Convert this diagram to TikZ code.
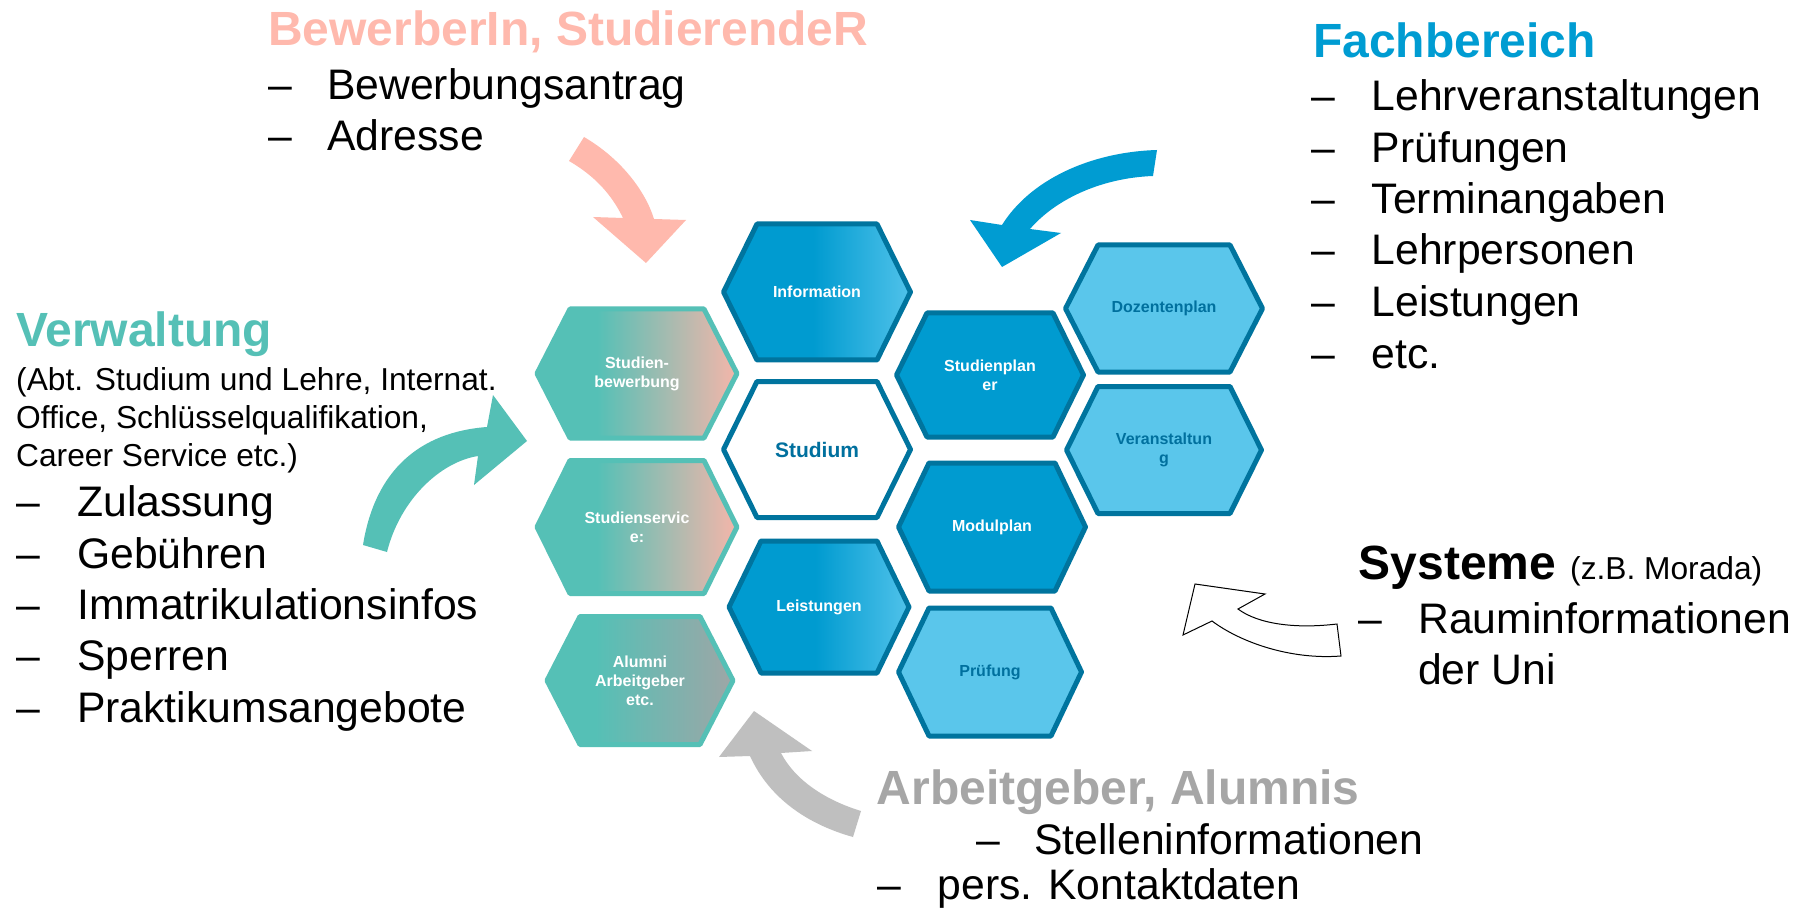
\documentclass[tikz,border=0pt]{standalone}
\usepackage{fontspec}
\setmainfont{Liberation Sans}
\definecolor{hexborder}{RGB}{0,116,158}
\definecolor{hexblue}{RGB}{0,155,208}
\definecolor{hexlight}{RGB}{90,198,235}
\definecolor{hexlight2}{RGB}{80,194,234}
\definecolor{tealc}{RGB}{85,192,182}
\definecolor{salmonc}{RGB}{255,185,173}
\definecolor{salmonend}{RGB}{240,182,170}
\definecolor{grayend}{RGB}{158,166,166}
\definecolor{arrowgray}{RGB}{191,191,191}
\definecolor{headgray}{RGB}{166,166,166}
\definecolor{fbblue}{RGB}{0,156,210}
\definecolor{txtblue}{RGB}{0,112,158}
\pgfdeclarehorizontalshading{infoshade}{100bp}{color(0bp)=(hexblue); color(49bp)=(hexblue); color(75bp)=(hexlight2); color(100bp)=(hexlight2)}
\pgfdeclarehorizontalshading{bewshade}{100bp}{color(0bp)=(tealc); color(40bp)=(tealc); color(74bp)=(salmonend); color(100bp)=(salmonend)}
\pgfdeclarehorizontalshading{alumshade}{100bp}{color(0bp)=(tealc); color(38bp)=(tealc); color(75bp)=(grayend); color(100bp)=(grayend)}
\newcommand{\drawhex}[6]{%
  \path[#1] (#2-#4,#3) -- (#2-#6,#3-#5) -- (#2+#6,#3-#5) -- (#2+#4,#3) -- (#2+#6,#3+#5) -- (#2-#6,#3+#5) -- cycle;}
\tikzset{
  hexbase/.style={line width=5pt, line join=round},
  hexgrad/.style={hexbase, draw=hexborder, shading=infoshade},
  hexsolid/.style={hexbase, draw=hexborder, fill=hexblue},
  hexlightst/.style={hexbase, draw=hexborder, fill=hexlight},
  hexwhite/.style={hexbase, draw=hexborder, fill=white},
  hexbew/.style={hexbase, draw=tealc, shading=bewshade},
  hexalum/.style={hexbase, draw=tealc, shading=alumshade},
  hl/.style={font=\bfseries\fontsize{16}{19}\selectfont, align=center, inner sep=0pt, text=white},
  hld/.style={hl, text=txtblue},
  hd/.style={font=\bfseries\fontsize{48}{57}\selectfont, inner sep=0pt, anchor=base west},
  itm/.style={font=\fontsize{42.7}{51}\selectfont, inner sep=0pt, anchor=base west},
  sm/.style={font=\fontsize{31.7}{38}\selectfont, inner sep=0pt, anchor=base west},
}
\begin{document}
\begin{tikzpicture}[x=1pt,y=-1pt]
\useasboundingbox (0,0) rectangle (1805,909);
\fill[white] (0,0) rectangle (1805,909);

% ---- hexagons ----
\drawhex{hexgrad}{817}{292}{93.5}{68}{60}
\drawhex{hexwhite}{817}{449.5}{93.5}{68}{60}
\drawhex{hexgrad}{819}{607}{90}{66}{58}
\drawhex{hexbew}{637}{373.5}{100}{64.5}{67}
\drawhex{hexbew}{637}{527}{100}{66.5}{67}
\drawhex{hexalum}{640}{680.5}{93}{64}{60}
\drawhex{hexsolid}{990}{375}{93.5}{62}{63}
\drawhex{hexsolid}{992}{527}{93.5}{64}{63}
\drawhex{hexlightst}{990}{672}{91.5}{64}{61}
\drawhex{hexlightst}{1164}{308.5}{98.5}{63.5}{66}
\drawhex{hexlightst}{1164}{450}{97.5}{63.5}{66}

\node[hl] (info) at (817,292) {Information};
\node[hld, font=\bfseries\fontsize{21}{25}\selectfont] (stud) at (817,449.5) {Studium};
\node[hl] (leist) at (819,607) {Leistungen};
\node[hl] (bew) at (637,373.5) {Studien-\\bewerbung};
\node[hl] (serv) at (637,527) {Studienservic\\e:};
\node[hl] (alum) at (640,680.5) {Alumni\\Arbeitgeber\\etc.};
\node[hl] (splan) at (990,375) {Studienplan\\er};
\node[hl] (modul) at (992,527) {Modulplan};
\node[hld] (pruef) at (990,672) {Prüfung};
\node[hld] (doz) at (1164,308.5) {Dozentenplan};
\node[hld] (veran) at (1164,450) {Veranstaltun\\g};

% ---- arrows ----
\fill[salmonc] (584,137) .. controls (620,158) and (645,190) .. (654,219) -- (686,220) -- (646,263) -- (593,217) -- (623,218) .. controls (612,195) and (595,176) .. (569,161) -- cycle;
\fill[fbblue] (1157,150) .. controls (1090,152) and (1030,180) .. (1002,225) -- (970,220) -- (1002,267) -- (1061,233) -- (1030,229) .. controls (1055,200) and (1100,178) .. (1153,176) -- cycle;
\fill[tealc] (363,545) .. controls (375,470) and (420,432) .. (487,427) -- (493,395) -- (527,441) -- (474,485) -- (478,456) .. controls (440,462) and (400,500) .. (387,552) -- cycle;
\fill[arrowgray] (861,811) .. controls (825,800) and (795,780) .. (781,753) -- (812,751) -- (754,711) -- (719,757) -- (750,756) .. controls (770,800) and (810,825) .. (853,837) -- cycle;
\filldraw[fill=white, draw=black, line width=1pt, line join=miter] (1337,624) .. controls (1295,629) and (1258,624) .. (1238,609) -- (1265,594) -- (1195,584) -- (1183,635) -- (1212,621) .. controls (1240,642) and (1290,660) .. (1341,656) -- cycle;

% ---- BewerberIn ----
\node[hd, text=salmonc] (bewH) at (268,46) {BewerberIn, StudierendeR};
\node[itm] (bewd1) at (268,100) {–};
\node[itm] (bew1) at (327,100) {Bewerbungsantrag};
\node[itm] (bewd2) at (268,151) {–};
\node[itm] (bew2) at (327,151) {Adresse};

% ---- Fachbereich ----
\node[hd, text=fbblue] (fbH) at (1313,58) {Fachbereich};
\node[itm] (fbd1) at (1311,111) {–};
\node[itm] (fb1) at (1371.5,111) {Lehrveranstaltungen};
\node[itm] (fbd2) at (1311,162.5) {–};
\node[itm] (fb2) at (1371.5,162.5) {Prüfungen};
\node[itm] (fbd3) at (1311,214) {–};
\node[itm] (fb3) at (1371.5,214) {Terminangaben};
\node[itm] (fbd4) at (1311,265) {–};
\node[itm] (fb4) at (1371.5,265) {Lehrpersonen};
\node[itm] (fbd5) at (1311,316.5) {–};
\node[itm] (fb5) at (1371.5,316.5) {Leistungen};
\node[itm] (fbd6) at (1311,368) {–};
\node[itm] (fb6) at (1371.5,368) {etc.};

% ---- Verwaltung ----
\node[hd, text=tealc] (vwH) at (16,347) {Verwaltung};
\node[sm] (vwp1) at (16,390) {(Abt. Studium und Lehre, Internat.};
\node[sm] (vwp2) at (16,428.3) {Office, Schlüsselqualifikation,};
\node[sm] (vwp3) at (16,466.7) {Career Service etc.)};
\node[itm] (vwd1) at (16,516.6) {–};
\node[itm] (vw1) at (77,516.6) {Zulassung};
\node[itm] (vwd2) at (16,568) {–};
\node[itm] (vw2) at (77,568) {Gebühren};
\node[itm] (vwd3) at (16,619.4) {–};
\node[itm] (vw3) at (77,619.4) {Immatrikulationsinfos};
\node[itm] (vwd4) at (16,670.8) {–};
\node[itm] (vw4) at (77,670.8) {Sperren};
\node[itm] (vwd5) at (16,722.2) {–};
\node[itm] (vw5) at (77,722.2) {Praktikumsangebote};

% ---- Systeme ----
\node[hd] (syH) at (1358.5,579) {Systeme};
\node[sm] (syP) at (1570,579) {(z.B. Morada)};
\node[itm] (syd1) at (1358.5,633) {–};
\node[itm] (sy1) at (1418,633) {Rauminformationen};
\node[itm] (sy2) at (1418,684) {der Uni};

% ---- Arbeitgeber ----
\node[hd, text=headgray] (agH) at (876.5,804) {Arbeitgeber, Alumnis};
\node[itm] (agd1) at (976,854.6) {–};
\node[itm] (ag1) at (1034,854.6) {Stelleninformationen};
\node[itm] (agd2) at (877,899) {–};
\node[itm] (ag2) at (937.5,899) {pers. Kontaktdaten};
\end{tikzpicture}
\end{document}
